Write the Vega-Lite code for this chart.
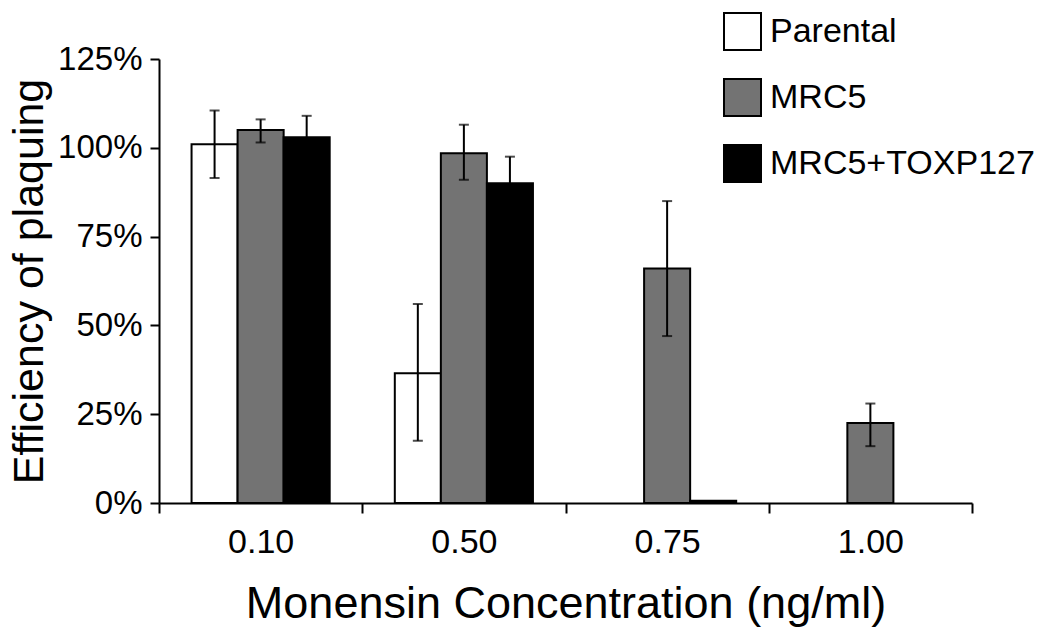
{
  "$schema": "https://vega.github.io/schema/vega-lite/v6.json",
  "width": 813,
  "height": 444,
  "autosize": {"type": "none"},
  "padding": {"left": 159, "top": 59, "right": 78, "bottom": 139},
  "background": "white",
  "config": {
    "view": {"stroke": null},
    "font": "Liberation Sans",
    "axis": {"grid": false, "domainColor": "black", "domainWidth": 2, "tickColor": "black", "tickWidth": 2, "labelColor": "black", "titleColor": "black", "titleFontWeight": "normal", "labelFont": "Liberation Sans", "titleFont": "Liberation Sans"},
    "legend": {"labelFont": "Liberation Sans"}
  },
  "data": {
    "values": [
      {"conc": "0.10", "group": "Parental", "value": 101, "lo": 91.5, "hi": 110.5},
      {"conc": "0.10", "group": "MRC5", "value": 105, "lo": 101.5, "hi": 108},
      {"conc": "0.10", "group": "MRC5+TOXP127", "value": 103, "lo": 97, "hi": 109},
      {"conc": "0.50", "group": "Parental", "value": 36.5, "lo": 17.5, "hi": 56},
      {"conc": "0.50", "group": "MRC5", "value": 98.5, "lo": 91, "hi": 106.5},
      {"conc": "0.50", "group": "MRC5+TOXP127", "value": 90, "lo": 82.5, "hi": 97.5},
      {"conc": "0.75", "group": "MRC5", "value": 66, "lo": 47, "hi": 85},
      {"conc": "0.75", "group": "MRC5+TOXP127", "value": 0.6, "lo": null, "hi": null},
      {"conc": "1.00", "group": "MRC5", "value": 22.5, "lo": 16, "hi": 28}
    ]
  },
  "encoding": {
    "x": {
      "field": "conc", "type": "nominal", "sort": ["0.10", "0.50", "0.75", "1.00"],
      "scale": {"paddingInner": 0, "paddingOuter": 0},
      "axis": {"labelAngle": 0, "labelFontSize": 34, "tickBand": "extent", "tickSize": 10, "labelPadding": 12, "title": "Monensin Concentration (ng/ml)", "titleFontSize": 45, "titlePadding": 22}
    },
    "xOffset": {
      "field": "group", "type": "nominal",
      "scale": {"domain": ["Parental", "MRC5", "MRC5+TOXP127"], "paddingInner": 0, "paddingOuter": 0.707}
    }
  },
  "layer": [
    {
      "mark": {"type": "bar", "stroke": "black", "strokeWidth": 2},
      "encoding": {
        "y": {
          "field": "value", "type": "quantitative",
          "scale": {"domain": [0, 125], "nice": false},
          "axis": {"values": [0, 25, 50, 75, 100, 125], "labelExpr": "datum.value + '%'", "labelFontSize": 33, "tickSize": 9, "labelPadding": 8, "title": "Efficiency of plaquing", "titleFontSize": 43, "titlePadding": 6}
        },
        "fill": {
          "field": "group", "type": "nominal",
          "scale": {"domain": ["Parental", "MRC5", "MRC5+TOXP127"], "range": ["#ffffff", "#737373", "#000000"]},
          "legend": {"title": null, "orient": "none", "legendX": 564, "legendY": -47, "symbolType": "square", "symbolSize": 1369, "symbolStrokeColor": "black", "symbolStrokeWidth": 2, "labelFontSize": 34, "labelColor": "black", "labelOffset": 8, "rowPadding": 21, "labelLimit": 400}
        }
      }
    },
    {
      "mark": {"type": "rule", "color": "black", "strokeWidth": 2},
      "encoding": {
        "y": {"field": "lo", "type": "quantitative"},
        "y2": {"field": "hi"}
      }
    },
    {
      "mark": {"type": "tick", "color": "black", "thickness": 2, "size": 10},
      "encoding": {"y": {"field": "hi", "type": "quantitative"}}
    },
    {
      "mark": {"type": "tick", "color": "black", "thickness": 2, "size": 10},
      "encoding": {"y": {"field": "lo", "type": "quantitative"}}
    }
  ]
}
